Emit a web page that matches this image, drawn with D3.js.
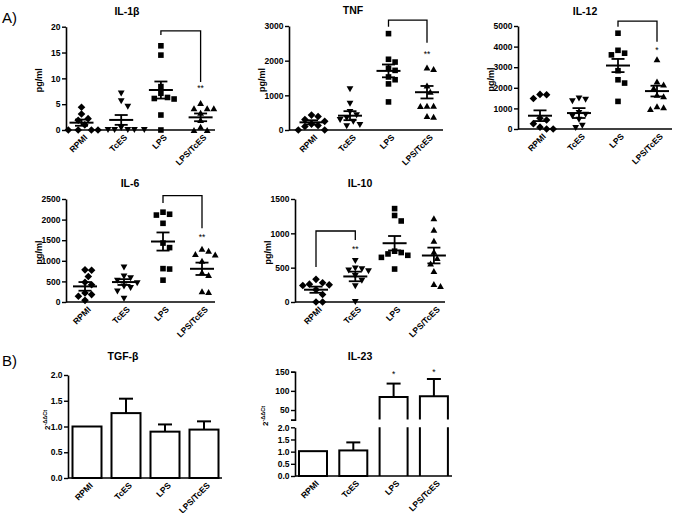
<!DOCTYPE html>
<html><head><meta charset="utf-8">
<script src="https://cdn.jsdelivr.net/npm/d3@7"></script>
<style>
body{margin:0;background:#fff;}
svg text{font-family:"Liberation Sans", Arial, sans-serif; fill:#000;}
</style></head><body>
<svg id="c" width="681" height="513"></svg>
<script>
// ---------- DATA ----------
const groups = ["RPMI", "TcES", "LPS", "LPS/TcES"];

const il1bValues = [
  [4.4, 3.1, 2.2, 1.9, 1.0, 0, 0, 0, 0],
  [7.1, 5.6, 4.5, 0.4, 0, 0, 0, 0, 0],
  [16.3, 14.5, 8.4, 7.1, 6.3, 6.1, 6.0, 2.9, 0],
  [5.2, 4.2, 4.2, 4.2, 3.3, 1.9, 0.6, 0, 0]
];
const il1bMean = [1.42, 1.95, 7.74, 2.45];
const il1bSem = [0.6, 0.95, 1.65, 0.75];

const tnfValues = [
  [430, 390, 300, 250, 170, 130, 100, 0, 0],
  [1180, 760, 520, 430, 340, 290, 240, 150, 110],
  [2780, 2040, 1960, 1780, 1720, 1530, 1450, 1330, 810],
  [1800, 1760, 1280, 1100, 700, 700, 690, 400, 380]
];
const tnfMean = [221, 413, 1705, 1090];
const tnfSem = [60, 130, 185, 180];

const il12Values = [
  [1680, 1660, 1480, 520, 440, 260, 90, 0, 0],
  [1480, 1420, 1350, 780, 700, 620, 450, 160, 50],
  [4650, 3820, 3680, 3600, 2830, 2390, 2230, 1340],
  [3380, 2300, 2150, 1980, 1660, 1580, 1100, 1050, 970]
];
const il12Mean = [645, 774, 3081, 1840];
const il12Sem = [260, 240, 320, 260];

const il6Values = [
  [780, 770, 620, 480, 420, 220, 180, 140, 40],
  [840, 620, 580, 520, 460, 380, 340, 260, 80],
  [2180, 2130, 2110, 1910, 1430, 1320, 810, 800, 530],
  [1290, 1240, 1160, 1150, 1000, 720, 650, 260, 240]
];
const il6Mean = [379, 484, 1468, 806];
const il6Sem = [105, 70, 220, 150];

const il10Values = [
  [330, 280, 260, 250, 240, 180, 110, 0, 0],
  [600, 490, 480, 460, 450, 380, 310, 230, 0],
  [1360, 1260, 1180, 740, 720, 700, 680, 650, 480],
  [1220, 1050, 890, 730, 640, 560, 450, 260, 230]
];
const il10Mean = [179, 372, 856, 677];
const il10Sem = [45, 70, 105, 115];

const tgfMean = [1.0, 1.26, 0.9, 0.94];
const tgfErr = [0, 0.28, 0.14, 0.16];

const il23Mean = [1.02, 1.05, 84, 86];
const il23Err = [0, 0.33, 35, 45];

const ticksIl1b = [0, 5, 10, 15, 20];
const ticksTnf = [0, 1000, 2000, 3000];
const ticksIl12 = [0, 1000, 2000, 3000, 4000, 5000];
const ticksIl6 = [0, 500, 1000, 1500, 2000, 2500];
const ticksIl10 = [0, 500, 1000, 1500];
const ticksTgf = [0, 0.5, 1.0, 1.5, 2.0];
const ticksIl23Low = [0, 0.5, 1.0, 1.5, 2.0];
const ticksIl23High = [50, 100, 150];

// significance: from group, to group, bracket top, left leg end, right leg end (data units)
const sigIl1b = {from: 2, to: 3, top: 19.2, leftEnd: 18.4, rightEnd: 9.3, label: "**", at: 3, labelVal: 8.3};
const sigTnf = {from: 2, to: 3, top: 3170, leftEnd: 2980, rightEnd: 2520, label: "**", at: 3, labelVal: 2220};
const sigIl12 = {from: 2, to: 3, top: 5240, leftEnd: 4960, rightEnd: 4235, label: "*", at: 3, labelVal: 3880};
const sigIl6 = {from: 2, to: 3, top: 2580, leftEnd: 2400, rightEnd: 1790, label: "**", at: 3, labelVal: 1600};
const sigIl10 = {from: 0, to: 1, top: 1034, leftEnd: 510, rightEnd: 903, label: "**", at: 1, labelVal: 786};
const starsIl23 = [{at: 2, val: 147, label: "*"}, {at: 3, val: 152, label: "*"}];

// ---------- DRAW ----------
const svg = d3.select("#c");
const FONT = '"Liberation Sans", Arial, sans-serif';

function shapePath(kind) {
  if (kind === 0) { const r = 3.8; return `M0,${-r}L${r},0L0,${r}L${-r},0Z`; }
  if (kind === 1) { return "M-3.4,-2.9L3.4,-2.9L0,3.1Z"; }
  if (kind === 2) { const s = 2.8; return `M${-s},${-s}H${s}V${s}H${-s}Z`; }
  return "M-3.4,2.9L3.4,2.9L0,-3.1Z";
}

function yAxis(g, ax, y, ticks, fmt, outer) {
  const a = g.append("g").attr("transform", `translate(${ax},0)`)
    .call(d3.axisLeft(y).tickValues(ticks).tickSize(4).tickSizeOuter(outer || 0).tickPadding(1.5).tickFormat(fmt));
  a.select(".domain").attr("stroke", "#000").attr("stroke-width", 1.6);
  a.selectAll(".tick line").attr("stroke", "#000").attr("stroke-width", 1.4);
  a.selectAll("text").attr("font-family", FONT).attr("font-size", 8.5).attr("font-weight", "bold");
  return a;
}

function xLabels(g, x, baseY) {
  const a = g.append("g").attr("transform", `translate(0,${baseY})`)
    .call(d3.axisBottom(x).tickSize(0).tickPadding(0));
  a.select(".domain").remove();
  a.selectAll("text").attr("font-family", FONT).attr("font-size", 8.5).attr("font-weight", "bold")
    .attr("text-anchor", "end").attr("y", 0).attr("dy", 0)
    .attr("transform", "translate(6,8) rotate(-45)");
}

function scatterPanel(p) {
  const g = svg.append("g");
  const y = d3.scaleLinear().domain([0, p.ticks[p.ticks.length - 1]]).range([p.bottom, p.top]);
  const x = d3.scalePoint().domain(groups).range([p.ax + p.first, p.ax + p.first + 3 * p.step]);
  // points with simple beeswarm
  p.values.forEach((vals, gi) => {
    const cx = x(groups[gi]);
    const placed = [];
    const sorted = vals.slice().sort((a, b) => b - a);
    sorted.forEach(v => {
      const py = y(v);
      const cand = [0];
      for (let k = 1; k < 8; k++) { cand.push(k * 3.3, -k * 3.3); }
      let off = 0;
      for (const c of cand) {
        if (placed.every(q => Math.hypot(q[0] - c, q[1] - py) >= 6.6)) { off = c; break; }
      }
      placed.push([off, py]);
      g.append("path").attr("d", shapePath(gi)).attr("fill", "#000")
        .attr("transform", `translate(${cx + off},${py})`);
    });
    // mean and SEM
    const m = p.mean[gi], s = p.sem[gi];
    g.append("line").attr("x1", cx - 12).attr("x2", cx + 12).attr("y1", y(m)).attr("y2", y(m))
      .attr("stroke", "#000").attr("stroke-width", 2);
    g.append("line").attr("x1", cx).attr("x2", cx).attr("y1", y(m - s)).attr("y2", y(m + s))
      .attr("stroke", "#000").attr("stroke-width", 1.8);
    [m - s, m + s].forEach(v => g.append("line").attr("x1", cx - 6.5).attr("x2", cx + 6.5)
      .attr("y1", y(v)).attr("y2", y(v)).attr("stroke", "#000").attr("stroke-width", 1.8));
  });
  yAxis(g, p.ax, y, p.ticks, d3.format("d"));
  g.append("line").attr("x1", p.ax).attr("x2", p.ax + p.len).attr("y1", p.bottom).attr("y2", p.bottom)
    .attr("stroke", "#000").attr("stroke-width", 1.6);
  xLabels(g, x, p.bottom);
  g.append("text").attr("transform", `translate(${p.ax - 24},${(p.top + p.bottom) / 2 + 2}) rotate(-90)`)
    .attr("text-anchor", "middle").attr("font-size", 9).attr("font-weight", "bold").text("pg/ml");
  g.append("text").attr("x", p.titleX).attr("y", p.titleY).attr("text-anchor", "middle")
    .attr("font-size", 10.5).attr("font-weight", "bold").text(p.title);
  const sg = p.sig;
  g.append("path").attr("fill", "none").attr("stroke", "#000").attr("stroke-width", 1.3)
    .attr("d", `M${x(groups[sg.from])},${y(sg.leftEnd)}V${y(sg.top)}H${x(groups[sg.to])}V${y(sg.rightEnd)}`);
  g.append("text").attr("x", x(groups[sg.at])).attr("y", y(sg.labelVal) + 4).attr("text-anchor", "middle")
    .attr("font-size", 8.5).attr("fill", "#333").text(sg.label);
}

scatterPanel({title: "IL-1β", values: il1bValues, mean: il1bMean, sem: il1bSem, ticks: ticksIl1b,
  ax: 66, top: 26.7, bottom: 130, first: 15.5, step: 39.7, len: 149, titleX: 127, titleY: 15, sig: sigIl1b});
scatterPanel({title: "TNF", values: tnfValues, mean: tnfMean, sem: tnfSem, ticks: ticksTnf,
  ax: 289, top: 26, bottom: 130, first: 22.5, step: 38.5, len: 154, titleX: 353, titleY: 14, sig: sigTnf});
scatterPanel({title: "IL-12", values: il12Values, mean: il12Mean, sem: il12Sem, ticks: ticksIl12,
  ax: 518, top: 26, bottom: 129, first: 22, step: 39, len: 154, titleX: 585, titleY: 15, sig: sigIl12});
scatterPanel({title: "IL-6", values: il6Values, mean: il6Mean, sem: il6Sem, ticks: ticksIl6,
  ax: 66, top: 199, bottom: 302, first: 19, step: 39, len: 149, titleX: 130, titleY: 187, sig: sigIl6});
scatterPanel({title: "IL-10", values: il10Values, mean: il10Mean, sem: il10Sem, ticks: ticksIl10,
  ax: 295, top: 199, bottom: 302, first: 21, step: 39.3, len: 150, titleX: 360, titleY: 187, sig: sigIl10});

function barYLabel(g, xPos, yPos) {
  const t = g.append("text").attr("transform", `translate(${xPos},${yPos}) rotate(-90)`)
    .attr("text-anchor", "middle").attr("font-size", 8).attr("font-weight", "bold");
  t.append("tspan").text("2");
  t.append("tspan").attr("font-size", 5.5).attr("dy", -3.5).text("-ΔΔCt");
}

// TGF-beta
(function () {
  const g = svg.append("g");
  const ax = 68, top = 375, bottom = 478;
  const y = d3.scaleLinear().domain([0, 2]).range([bottom, top]);
  const x = d3.scalePoint().domain(groups).range([ax + 19, ax + 19 + 3 * 39]);
  const bw = 29;
  groups.forEach((gr, i) => {
    const cx = x(gr);
    if (tgfErr[i] > 0) {
      g.append("line").attr("x1", cx).attr("x2", cx).attr("y1", y(tgfMean[i])).attr("y2", y(tgfMean[i] + tgfErr[i]))
        .attr("stroke", "#000").attr("stroke-width", 2);
      g.append("line").attr("x1", cx - 7).attr("x2", cx + 7).attr("y1", y(tgfMean[i] + tgfErr[i])).attr("y2", y(tgfMean[i] + tgfErr[i]))
        .attr("stroke", "#000").attr("stroke-width", 2);
    }
    g.append("rect").attr("x", cx - bw / 2).attr("width", bw).attr("y", y(tgfMean[i])).attr("height", bottom - y(tgfMean[i]))
      .attr("fill", "#fff").attr("stroke", "#000").attr("stroke-width", 2);
  });
  yAxis(g, ax, y, ticksTgf, d3.format(".1f"));
  g.append("line").attr("x1", ax).attr("x2", ax + 154).attr("y1", bottom).attr("y2", bottom)
    .attr("stroke", "#000").attr("stroke-width", 1.6);
  xLabels(g, x, bottom);
  barYLabel(g, 50, 420);
  g.append("text").attr("x", 123).attr("y", 360).attr("text-anchor", "middle")
    .attr("font-size", 10.5).attr("font-weight", "bold").text("TGF-β");
})();

// IL-23 (broken axis)
(function () {
  const g = svg.append("g");
  const ax = 295, bottom = 476;
  const yLow = d3.scaleLinear().domain([0, 2]).range([bottom, 427.3]);
  const yHigh = d3.scaleLinear().domain([25, 150]).range([419.6, 371.7]);
  const x = d3.scalePoint().domain(groups).range([ax + 18, ax + 18 + 3 * 40.3]);
  const bw = 28;
  groups.forEach((gr, i) => {
    const cx = x(gr), m = il23Mean[i], e = il23Err[i];
    const l = cx - bw / 2, r = cx + bw / 2;
    if (m <= 2) {
      if (e > 0) {
        g.append("line").attr("x1", cx).attr("x2", cx).attr("y1", yLow(m)).attr("y2", yLow(m + e)).attr("stroke", "#000").attr("stroke-width", 2);
        g.append("line").attr("x1", cx - 7).attr("x2", cx + 7).attr("y1", yLow(m + e)).attr("y2", yLow(m + e)).attr("stroke", "#000").attr("stroke-width", 2);
      }
      g.append("rect").attr("x", l).attr("width", bw).attr("y", yLow(m)).attr("height", bottom - yLow(m))
        .attr("fill", "#fff").attr("stroke", "#000").attr("stroke-width", 2);
    } else {
      g.append("line").attr("x1", cx).attr("x2", cx).attr("y1", yHigh(m)).attr("y2", yHigh(m + e)).attr("stroke", "#000").attr("stroke-width", 2);
      g.append("line").attr("x1", cx - 7).attr("x2", cx + 7).attr("y1", yHigh(m + e)).attr("y2", yHigh(m + e)).attr("stroke", "#000").attr("stroke-width", 2);
      g.append("path").attr("fill", "none").attr("stroke", "#000").attr("stroke-width", 2)
        .attr("d", `M${l},${yLow(2)}V${bottom}M${r},${yLow(2)}V${bottom}`);
      g.append("path").attr("fill", "none").attr("stroke", "#000").attr("stroke-width", 2)
        .attr("d", `M${l},${yHigh(25)}V${yHigh(m)}H${r}V${yHigh(25)}`);
    }
  });
  yAxis(g, ax, yLow, ticksIl23Low, d3.format(".1f"));
  yAxis(g, ax, yHigh, ticksIl23High, d3.format("d"), 4);
  g.append("line").attr("x1", ax).attr("x2", ax + 157).attr("y1", bottom).attr("y2", bottom)
    .attr("stroke", "#000").attr("stroke-width", 1.6);
  xLabels(g, x, bottom);
  barYLabel(g, 268, 416);
  g.append("text").attr("x", 360).attr("y", 360).attr("text-anchor", "middle")
    .attr("font-size", 10.5).attr("font-weight", "bold").text("IL-23");
  starsIl23.forEach(s => g.append("text").attr("x", x(groups[s.at])).attr("y", yHigh(s.val) + 4)
    .attr("text-anchor", "middle").attr("font-size", 8.5).attr("fill", "#333").text(s.label));
})();

svg.append("text").attr("x", 2).attr("y", 23).attr("font-size", 15).text("A)");
svg.append("text").attr("x", 2).attr("y", 366).attr("font-size", 15).text("B)");
</script>
</body></html>
